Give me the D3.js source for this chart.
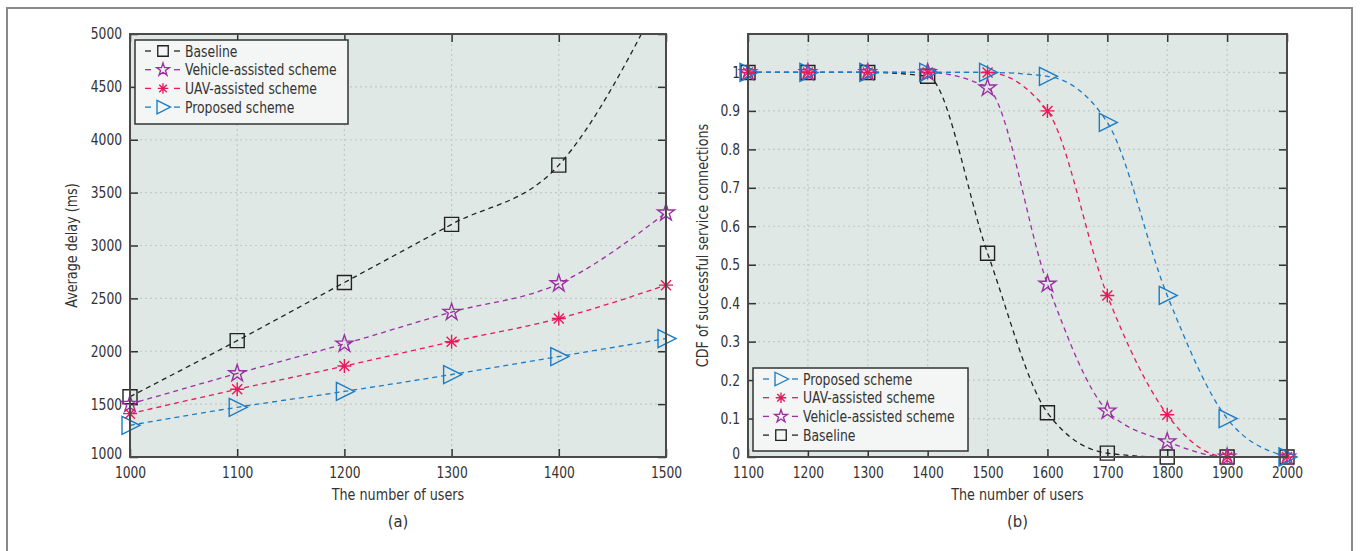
<!DOCTYPE html>
<html lang="en">
<head>
    <meta charset="UTF-8">
    <title>Average delay and CDF of successful service connections</title>
    <script src="https://d3js.org/d3.v7.min.js"></script>
    <style>
        body { margin: 0; background: #fff; }
        svg text {
            font-family: "Liberation Sans Narrow", "DejaVu Sans Condensed", "DejaVu Sans", sans-serif;
            font-stretch: condensed;
            fill: #333;
        }
    </style>
</head>
<body>
<svg id="fig" width="1360" height="551"></svg>
<script>
    // ---- panel (a) data ----
    const usersA = [1000, 1100, 1200, 1300, 1400, 1500];
    const delayBaseline = [1570, 2100, 2650, 3200, 3760, 5450];
    const delayVehicle = [1500, 1790, 2070, 2370, 2640, 3310];
    const delayUAV = [1410, 1640, 1860, 2090, 2310, 2625];
    const delayProposed = [1300, 1470, 1620, 1780, 1950, 2120];
    const delayTicks = [1000, 1500, 2000, 2500, 3000, 3500, 4000, 4500, 5000];

    // ---- panel (b) data ----
    const usersB = [1100, 1200, 1300, 1400, 1500, 1600, 1700, 1800, 1900, 2000];
    const cdfBaseline = [1, 1, 1, 0.99, 0.53, 0.115, 0.01, 0, 0, 0];
    const cdfVehicle = [1, 1, 1, 1, 0.96, 0.45, 0.12, 0.04, 0, 0];
    const cdfUAV = [1, 1, 1, 1, 1, 0.9, 0.42, 0.11, 0, 0];
    const cdfProposed = [1, 1, 1, 1, 1, 0.99, 0.87, 0.42, 0.10, 0];
    const cdfTicks = [0, 0.1, 0.2, 0.3, 0.4, 0.5, 0.6, 0.7, 0.8, 0.9, 1];

    const names = {
        baseline: "Baseline",
        vehicle: "Vehicle-assisted scheme",
        uav: "UAV-assisted scheme",
        proposed: "Proposed scheme"
    };
    const colors = {
        baseline: "#222222",
        vehicle: "#9c2fa3",
        uav: "#e8195c",
        proposed: "#1c7cc6"
    };

    const svg = d3.select("#fig");

    // squeeze text horizontally, the original uses a condensed face
    function condense(sel, k) {
        sel.each(function () {
            const w = this.getComputedTextLength();
            d3.select(this).attr("textLength", w * k).attr("lengthAdjust", "spacingAndGlyphs");
        });
    }

    // outer frame of the figure
    svg.append("rect")
        .attr("x", 7).attr("y", 8)
        .attr("width", 1345).attr("height", 560)
        .attr("fill", "none")
        .attr("stroke", "#8a8a8a")
        .attr("stroke-width", 2);

    // marker paths, centred on 0,0
    function markerPath(kind) {
        if (kind === "baseline") {
            return "M-7,-7H7V7H-7Z";
        }
        if (kind === "vehicle") {
            return d3.symbol(d3.symbolStar, 90)();
        }
        if (kind === "uav") {
            const r = 7, d = 5;
            return `M${-r},0H${r}M0,${-r}V${r}M${-d},${-d}L${d},${d}M${-d},${d}L${d},${-d}`;
        }
        // right-pointing triangle
        return "M-8,-9L10,0L-8,9Z";
    }

    function drawPanel(cfg) {
        const g = svg.append("g");
        const x = d3.scaleLinear().domain(cfg.xDomain).range([cfg.left, cfg.right]);
        const y = d3.scaleLinear().domain(cfg.yDomain).range([cfg.bottom, cfg.top]);

        const clipId = "clip-" + cfg.id;
        svg.append("clipPath").attr("id", clipId)
            .append("rect")
            .attr("x", cfg.left).attr("y", cfg.top)
            .attr("width", cfg.right - cfg.left).attr("height", cfg.bottom - cfg.top);

        // background
        g.append("rect")
            .attr("x", cfg.left).attr("y", cfg.top)
            .attr("width", cfg.right - cfg.left).attr("height", cfg.bottom - cfg.top)
            .attr("fill", "#dfe8e4");

        // grid
        g.append("g").selectAll("line")
            .data(cfg.xTicks)
            .join("line")
            .attr("x1", d => x(d)).attr("x2", d => x(d))
            .attr("y1", cfg.top).attr("y2", cfg.bottom)
            .attr("stroke", "#c4c8c6").attr("stroke-width", 1.2)
            .attr("stroke-dasharray", "2,3");
        g.append("g").selectAll("line")
            .data(cfg.yTicks)
            .join("line")
            .attr("x1", cfg.left).attr("x2", cfg.right)
            .attr("y1", d => y(d)).attr("y2", d => y(d))
            .attr("stroke", "#c4c8c6").attr("stroke-width", 1.2)
            .attr("stroke-dasharray", "2,3");

        // axes (ticks inside)
        const tickLen = 8;
        const axB = d3.axisBottom(x).tickValues(cfg.xTicks).tickSizeInner(-tickLen).tickSizeOuter(0)
            .tickPadding(12).tickFormat(d3.format("d"));
        const axL = d3.axisLeft(y).tickValues(cfg.yTicks).tickSizeInner(-tickLen).tickSizeOuter(0)
            .tickPadding(12).tickFormat(cfg.yFormat);
        const axT = d3.axisTop(x).tickValues(cfg.xTicks).tickSizeInner(-tickLen).tickSizeOuter(0).tickFormat("");
        const axR = d3.axisRight(y).tickValues(cfg.yTicks).tickSizeInner(-tickLen).tickSizeOuter(0).tickFormat("");

        const axes = [
            g.append("g").attr("transform", `translate(0,${cfg.bottom})`).call(axB),
            g.append("g").attr("transform", `translate(${cfg.left},0)`).call(axL),
            g.append("g").attr("transform", `translate(0,${cfg.top})`).call(axT),
            g.append("g").attr("transform", `translate(${cfg.right},0)`).call(axR)
        ];
        axes.forEach(a => {
            a.select(".domain").remove();
            a.selectAll(".tick line").attr("stroke", "#333").attr("stroke-width", 1.5);
            a.selectAll(".tick text").style("font-size", "15.5px").attr("fill", "#333");
        });
        axes[1].selectAll(".tick text").attr("dx", "4").call(condense, 0.88);
        // lowest y label sits a little above the corner, as in the original
        axes[1].selectAll(".tick text").filter(d => d === cfg.yDomain[0]).attr("dy", "0.1em");
        axes[0].selectAll(".tick text").attr("dy", "0.6em").call(condense, 0.88);

        // series lines, piecewise monotone cubic like pchip
        const line = d3.line()
            .x((d, i) => x(cfg.xs[i]))
            .y(d => y(d))
            .curve(d3.curveMonotoneX);

        const lines = g.append("g").attr("clip-path", `url(#${clipId})`);
        cfg.series.forEach(s => {
            lines.append("path")
                .datum(s.values)
                .attr("d", line)
                .attr("fill", "none")
                .attr("stroke", colors[s.key])
                .attr("stroke-width", 1.3)
                .attr("stroke-dasharray", "5,4");
        });

        // markers (points above the axis range are left out)
        cfg.series.forEach(s => {
            g.append("g").selectAll("path")
                .data(s.values.map((v, i) => ({x: cfg.xs[i], v})).filter(d => d.v <= cfg.yDomain[1]))
                .join("path")
                .attr("transform", d => `translate(${x(d.x)},${y(d.v)})`)
                .attr("d", markerPath(s.key))
                .attr("fill", "none")
                .attr("stroke", colors[s.key])
                .attr("stroke-width", 1.4);
        });

        // box
        g.append("rect")
            .attr("x", cfg.left).attr("y", cfg.top)
            .attr("width", cfg.right - cfg.left).attr("height", cfg.bottom - cfg.top)
            .attr("fill", "none")
            .attr("stroke", "#4a4a4a").attr("stroke-width", 2);

        // axis titles
        g.append("text")
            .attr("x", (cfg.left + cfg.right) / 2).attr("y", 500)
            .attr("text-anchor", "middle")
            .style("font-size", "16.5px")
            .text("The number of users")
            .call(condense, 0.86);
        g.append("text")
            .attr("transform", `translate(${cfg.yTitleX},${(cfg.top + cfg.bottom) / 2}) rotate(-90)`)
            .attr("text-anchor", "middle")
            .style("font-size", "16.5px")
            .text(cfg.yTitle)
            .call(condense, 0.86);
        g.append("text")
            .attr("x", (cfg.left + cfg.right) / 2).attr("y", 527)
            .attr("text-anchor", "middle")
            .style("font-size", "16.5px")
            .text(cfg.caption);

        // legend
        const lg = g.append("g").attr("transform", `translate(${cfg.legend.x},${cfg.legend.y})`);
        lg.append("rect")
            .attr("width", cfg.legend.w).attr("height", cfg.legend.h)
            .attr("fill", "#f3f6f5")
            .attr("stroke", "#333").attr("stroke-width", 1.5);
        cfg.legend.order.forEach((key, i) => {
            const row = lg.append("g").attr("transform", `translate(0,${11 + i * 18.7})`);
            [[10, 16], [39, 45]].forEach(([a, b]) => {
                row.append("line")
                    .attr("x1", a).attr("x2", b)
                    .attr("stroke", colors[key]).attr("stroke-width", 1.3);
            });
            row.append("path")
                .attr("transform", "translate(28,0) scale(0.75)")
                .attr("d", markerPath(key))
                .attr("fill", "none")
                .attr("stroke", colors[key]).attr("stroke-width", 1.8);
            row.append("text")
                .attr("x", 50).attr("dy", "0.35em")
                .style("font-size", "16px")
                .text(names[key])
                .call(condense, 0.86);
        });
    }

    drawPanel({
        id: "a",
        left: 130, right: 666, top: 34, bottom: 457,
        xDomain: [1000, 1500], yDomain: [1000, 5000],
        xTicks: usersA, yTicks: delayTicks,
        yFormat: d3.format("d"),
        xs: usersA,
        series: [
            {key: "baseline", values: delayBaseline},
            {key: "vehicle", values: delayVehicle},
            {key: "uav", values: delayUAV},
            {key: "proposed", values: delayProposed}
        ],
        yTitle: "Average delay (ms)", yTitleX: 77,
        caption: "(a)",
        legend: {x: 135, y: 40, w: 213, h: 84, order: ["baseline", "vehicle", "uav", "proposed"]}
    });

    drawPanel({
        id: "b",
        left: 748, right: 1287, top: 34, bottom: 457,
        xDomain: [1100, 2000], yDomain: [0, 1.1],
        xTicks: usersB, yTicks: cdfTicks,
        yFormat: d => d3.format("~g")(d),
        xs: usersB,
        series: [
            {key: "baseline", values: cdfBaseline},
            {key: "vehicle", values: cdfVehicle},
            {key: "uav", values: cdfUAV},
            {key: "proposed", values: cdfProposed}
        ],
        yTitle: "CDF of successful service connections", yTitleX: 708,
        caption: "(b)",
        legend: {x: 753, y: 368, w: 215, h: 83, order: ["proposed", "uav", "vehicle", "baseline"]}
    });
</script>
</body>
</html>
